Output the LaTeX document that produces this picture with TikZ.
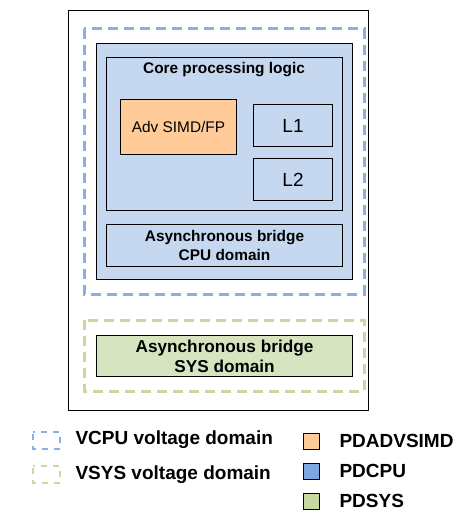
\documentclass[tikz,border=0pt]{standalone}
\usepackage{fontspec}
\setmainfont{Liberation Sans}
\usetikzlibrary{positioning, calc}
\definecolor{cpupale}{HTML}{C6D8F0}
\definecolor{cpublue}{HTML}{7EA6E0}
\definecolor{simdorange}{HTML}{FFCC99}
\definecolor{syspale}{HTML}{D7E4C0}
\definecolor{sysgreen}{HTML}{C5D9A0}

\begin{document}
\begin{tikzpicture}[x=1pt,y=-1pt,
    blk/.style={draw=black,line width=1pt,inner sep=0pt,anchor=north west,align=center},
    mid/.style={font=\fontsize{15.4}{18.3}\selectfont},
    big/.style={font=\bfseries\fontsize{19}{22}\selectfont},
    vdash/.style={line width=3pt,dash pattern=on 10pt off 6pt}]
    \useasboundingbox (0,0) rectangle (466,518);
    % chip and voltage domains
    \draw[line width=1pt] (68,11) rectangle (368,410);
    \draw[vdash,cpublue!90] (84,29) rectangle (364,294);
    \draw[vdash,sysgreen] (84,320) rectangle (364,391);
    % PDCPU
    \node[blk,fill=cpupale,minimum width=256pt,minimum height=236pt] (pdcpu) at (96,43) {};
    \node[blk,minimum width=236pt,minimum height=153pt] (core) at (106,57) {};
    \node[mid,font=\bfseries\fontsize{15.4}{18.3}\selectfont] (coretitle) at (224,70) {Core processing logic};
    \node[blk,mid,fill=simdorange,minimum width=116pt,minimum height=55pt] (simd) at (120,99) {Adv SIMD/FP};
    \node[blk,font=\fontsize{19}{22}\selectfont,minimum width=79pt,minimum height=42pt] (lone) at (253,104) {L1};
    \node[blk,font=\fontsize{19}{22}\selectfont,minimum width=79pt,minimum height=42pt] (ltwo) at (253,158) {L2};
    \node[blk,font=\bfseries\fontsize{15.4}{18.3}\selectfont,minimum width=236pt,minimum height=42pt] (cpubridge) at (106,224) {Asynchronous bridge\\CPU domain};
    % PDSYS
    \node[blk,font=\bfseries\fontsize{17.2}{19.7}\selectfont,fill=syspale,minimum width=256pt,minimum height=41pt] (sysbridge) at (96,335) {Asynchronous bridge\\SYS domain};
    % legend
    \draw[cpublue!90,line width=2.5pt,dash pattern=on 6pt off 6pt,dash phase=-2pt] (33,432) rectangle (60,449);
    \draw[sysgreen,line width=2.5pt,dash pattern=on 6pt off 6pt,dash phase=-2pt] (33,466) rectangle (60,483);
    \node[big,anchor=west] (vcpu) at (72,440) {VCPU voltage domain};
    \node[big,anchor=west] (vsys) at (72,475) {VSYS voltage domain};
    \foreach \y/\c/\n/\t in {433/simdorange/kadv/PDADVSIMD, 463/cpublue/kcpu/PDCPU, 493/sysgreen/ksys/PDSYS}{
        \draw[fill=\c,line width=1pt] (303,\y) rectangle ++(16,16);
        \node[big,anchor=west] (\n) at (336,\y+8) {\t};
    }
\end{tikzpicture}
\end{document}
